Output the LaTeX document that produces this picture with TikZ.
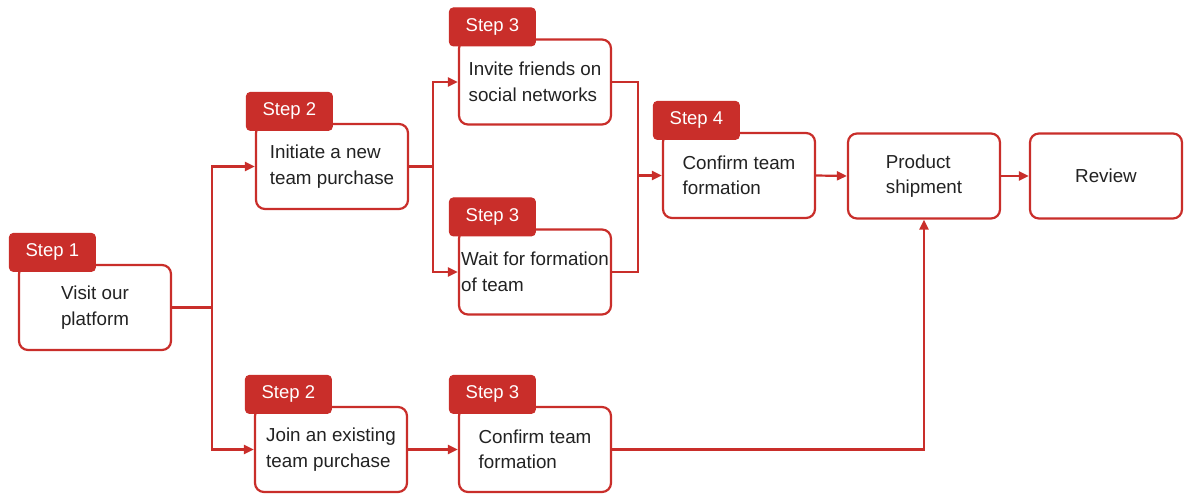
\documentclass[tikz,border=0pt]{standalone}
\usepackage{fontspec}
\setmainfont{Liberation Sans}
\usepackage{tikz}
\usetikzlibrary{arrows.meta,positioning}
\definecolor{brand}{HTML}{C92E2A}
\definecolor{ink}{HTML}{222222}
\tikzset{
  stepbox/.style={draw=brand, fill=white, rounded corners=9pt, line width=2.2pt,
                  minimum width=152pt, minimum height=85pt, inner sep=0pt,
                  text=ink, font=\fontsize{18.8}{25.5}\selectfont},
  steptag/.style={draw=brand, fill=brand, rounded corners=4pt, line width=1pt,
                  minimum width=86pt, minimum height=38pt, inner sep=0pt,
                  text=white, font=\fontsize{18.5}{20}\selectfont, anchor=south west},
  link/.style={draw=brand, line width=2.2pt},
  arrow/.style={link, -{Triangle[length=10pt,width=9pt]}}
}
\begin{document}
\begin{tikzpicture}[x=1pt,y=-1pt]
        \useasboundingbox (0,0) rectangle (1184,495);

        % process boxes
        \node[stepbox,align=center] (visit)  at (95,307.5)  {Visit our\\platform};
        \node[stepbox,align=left]   (init)   at (332,166.5) {Initiate a new\\team purchase};
        \node[stepbox,align=left]   (invite) at (535,82)    {Invite friends on\\social networks};
        \node[stepbox,align=left]   (wait)   at (535,272)   {Wait for formation\\of team};
        \node[stepbox,align=left]   (conf)   at (739,175.5) {Confirm team\\formation};
        \node[stepbox,align=left]   (ship)   at (924,176)   {Product\\shipment};
        \node[stepbox]              (review) at (1106,176)  {Review};
        \node[stepbox,align=left]   (join)   at (331,449.5) {Join an existing\\team purchase};
        \node[stepbox,align=left]   (confb)  at (535,449.5) {Confirm team\\formation};

        % step tags
        \foreach \nd/\lab in {visit/1,init/2,invite/3,wait/3,conf/4,join/2,confb/3}
          {\node[steptag] (tag-\nd) at ([shift={(-9,8)}]\nd.north west) {Step \lab};}

        % connectors
        \coordinate (split1) at ([xshift=40]visit.east);
        \draw[link] (visit.east) -- (split1);
        \draw[arrow] (split1) |- (init.west);
        \draw[arrow] (split1) |- (join.west);

        \coordinate (split2) at ([xshift=24]init.east);
        \draw[link] (init.east) -- (split2);
        \draw[arrow] (split2) |- (invite.west);
        \draw[arrow] (split2) |- (wait.west);

        \coordinate (mergeup) at ([xshift=26]invite.east);
        \coordinate (merge) at (mergeup |- conf.west);
        \draw[link] (invite.east) -| (merge);
        \draw[link] (wait.east) -| (merge);
        \draw[arrow] (merge) -- (conf.west);

        \draw[arrow] (conf.east) -- (ship.west);
        \draw[arrow] (ship.east) -- (review.west);
        \draw[arrow] (join.east) -- (confb.west);
        \draw[arrow] (confb.east) -| (ship.south);
      \end{tikzpicture}
\end{document}
